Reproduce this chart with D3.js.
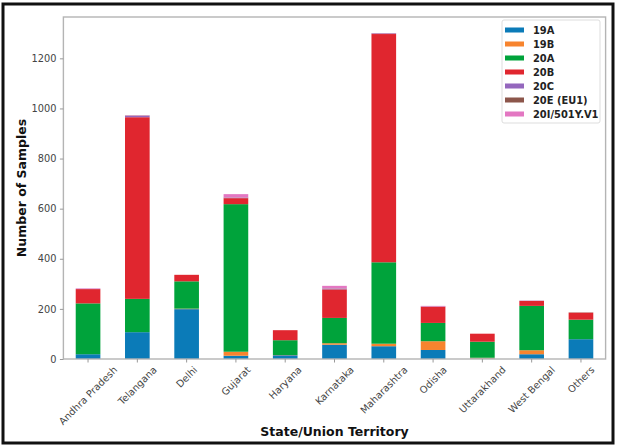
<!DOCTYPE html>
<html>
<head>
<meta charset="utf-8">
<script src="https://cdn.jsdelivr.net/npm/d3@7"></script>
<style>
  html, body { margin: 0; padding: 0; background: #fff; }
  svg { display: block; }
  text { font-family: "DejaVu Sans", sans-serif; }
</style>
</head>
<body>
<svg id="chart" width="617" height="446"></svg>
<script>
// Sequenced samples per state / union territory, split by clade
const categories = ["Andhra Pradesh", "Telangana", "Delhi", "Gujarat", "Haryana", "Karnataka",
  "Maharashtra", "Odisha", "Uttarakhand", "West Bengal", "Others"];
const clades = ["19A", "19B", "20A", "20B", "20C", "20E (EU1)", "20I/501Y.V1"];
const clade19A = [19, 107, 199, 13, 15, 57, 51, 36, 2, 19, 79];
const clade19B = [0, 0, 2, 16, 1, 6, 10, 35, 3, 16, 0];
const clade20A = [203, 133, 109, 589, 59, 101, 325, 73, 64, 177, 78];
const clade20B = [57, 725, 26, 24, 40, 114, 911, 65, 32, 20, 28];
const clade20C = [1, 6, 0, 2, 0, 3, 2, 1, 0, 1, 0];
const clade20E = [0, 1, 0, 1, 0, 1, 1, 0, 0, 0, 1];
const clade20I = [2, 1, 0, 13, 0, 10, 1, 2, 0, 0, 0];
const yTicks = [0, 200, 400, 600, 800, 1000, 1200];
const colors = ["#0b7bb8", "#f7842e", "#00a33b", "#e0262f", "#9467bd", "#8c564b", "#e377c2"];

const seriesValues = [clade19A, clade19B, clade20A, clade20B, clade20C, clade20E, clade20I];
const rows = categories.map((c, i) => {
  const r = { state: c };
  clades.forEach((k, j) => { r[k] = seriesValues[j][i]; });
  return r;
});
const stacked = d3.stack().keys(clades)(rows);

const svg = d3.select("#chart");
const plot = { left: 63.4, right: 605.6, top: 17, bottom: 359 };

const x = d3.scaleBand()
  .domain(categories)
  .range([plot.left, plot.right])
  .paddingInner(0.5)
  .paddingOuter(0.25);
const y = d3.scaleLinear().domain([0, 1365]).range([plot.bottom, plot.top]);

// outer frame
svg.append("rect")
  .attr("x", 3).attr("y", 4).attr("width", 610).attr("height", 439)
  .attr("fill", "none").attr("stroke", "#111").attr("stroke-width", 3);

// stacked bars
const layer = svg.append("g");
stacked.forEach((s, j) => {
  layer.append("g").attr("fill", colors[j])
    .selectAll("rect").data(s).join("rect")
    .attr("x", d => x(d.data.state))
    .attr("width", x.bandwidth())
    .attr("y", d => y(d[1]))
    .attr("height", d => Math.max(0, y(d[0]) - y(d[1])));
});

// spines
svg.append("rect")
  .attr("x", plot.left).attr("y", plot.top)
  .attr("width", plot.right - plot.left).attr("height", plot.bottom - plot.top)
  .attr("fill", "none").attr("stroke", "#b4b4b4").attr("stroke-width", 1.4);

// y axis
const yAxis = svg.append("g")
  .attr("transform", `translate(${plot.left},0)`)
  .call(d3.axisLeft(y).tickValues(yTicks).tickFormat(d3.format("d")).tickSize(3.5).tickPadding(3.5));
yAxis.select(".domain").remove();
yAxis.selectAll(".tick line").attr("stroke", "#999");
yAxis.selectAll(".tick text").attr("fill", "#444").attr("font-size", 9.8)
  .attr("font-family", "DejaVu Sans, sans-serif");

// x axis
const xAxis = svg.append("g")
  .attr("transform", `translate(0,${plot.bottom})`)
  .call(d3.axisBottom(x).tickSize(3.5).tickFormat(""));
xAxis.select(".domain").remove();
xAxis.selectAll(".tick line").attr("stroke", "#999");

// rotated category labels, bounding box centred under each tick
const lblFont = 9.8;
const lblG = svg.append("g");
categories.forEach(c => {
  const cx = x(c) + x.bandwidth() / 2;
  const t = lblG.append("text")
    .attr("font-size", lblFont).attr("fill", "#444")
    .attr("text-anchor", "middle").attr("dominant-baseline", "central")
    .text(c);
  const L = t.node().getComputedTextLength();
  const h = lblFont * 1.15;
  const half = (L + h) * Math.SQRT1_2 / 2;
  const cy = plot.bottom + 5 + half;
  t.attr("x", cx).attr("y", cy).attr("transform", `rotate(-45,${cx},${cy})`);
});

// axis titles
svg.append("text")
  .attr("x", (plot.left + plot.right) / 2).attr("y", 436)
  .attr("text-anchor", "middle").attr("font-size", 12.5).attr("font-weight", "bold")
  .attr("fill", "#111").text("State/Union Territory");
svg.append("text")
  .attr("transform", `translate(26,${(plot.top + plot.bottom) / 2}) rotate(-90)`)
  .attr("text-anchor", "middle").attr("font-size", 12.5).attr("font-weight", "bold")
  .attr("fill", "#111").text("Number of Samples");

// legend
const lg = svg.append("g");
lg.append("rect")
  .attr("x", 502).attr("y", 20).attr("width", 98).attr("height", 103).attr("rx", 2)
  .attr("fill", "#fff").attr("stroke", "#ddd").attr("stroke-width", 1);
clades.forEach((k, j) => {
  const yy = 30 + j * 14;
  lg.append("rect").attr("x", 505).attr("y", yy - 2.5).attr("width", 19).attr("height", 5)
    .attr("fill", colors[j]);
  lg.append("text").attr("x", 533).attr("y", yy).attr("dominant-baseline", "central")
    .attr("font-size", 9.9).attr("font-weight", "bold").attr("fill", "#222").text(k);
});
</script>
</body>
</html>
